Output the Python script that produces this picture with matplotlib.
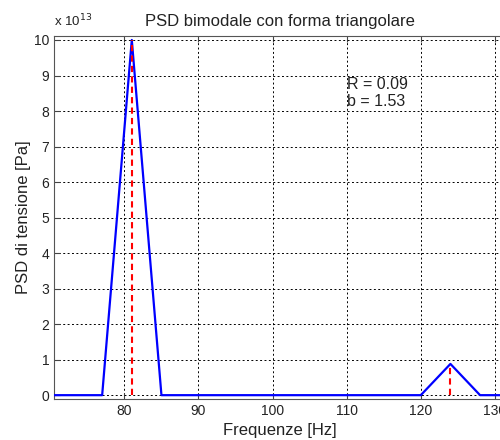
import numpy as np
import matplotlib.pyplot as plt

plt.rcParams['font.family'] = ['Liberation Sans', 'DejaVu Sans']

# dati
freq = [70.5, 77, 81, 85, 120, 124, 128, 132]
psd = [0, 0, 10e13, 0, 0, 0.88e13, 0, 0]
picchi_f = [81, 124]
picchi_psd = [10e13, 0.88e13]
scala = 1e13

fig = plt.figure(figsize=(5, 4.4), dpi=100)
ax = fig.add_axes([0.108, 0.093, 0.904, 0.825])

ax.plot(freq, np.array(psd) / scala, color='#0000ff', lw=1.6, zorder=3)
for f, p in zip(picchi_f, picchi_psd):
    ax.plot([f, f], [0, p / scala], color='#ff0000', lw=1.5, ls=(0, (3, 2)), zorder=4)

ax.set_xlim(70.5, 131.5)
ax.set_ylim(-0.11, 10.11)
ax.set_xticks([80, 90, 100, 110, 120, 130])
ax.set_yticks(range(0, 11))

ax.grid(True, color='black', ls=(0, (2, 2.5)), lw=0.7)
ax.tick_params(direction='in', top=True, right=True, labelsize=10, length=4, colors='#444444',
               labelcolor='#222222')
for s in ax.spines.values():
    s.set_color('#555555')

ax.set_title('PSD bimodale con forma triangolare', fontsize=12, color='#222222', pad=7)
ax.set_xlabel('Frequenze [Hz]', fontsize=12, color='#222222', labelpad=4)
ax.set_ylabel('PSD di tensione [Pa]', fontsize=12, color='#222222', labelpad=2)
ax.text(0.0, 1.02, r'x 10$^{13}$', transform=ax.transAxes, fontsize=9.5, color='#222222',
        va='bottom', ha='left')
ax.text(110.1, 8.5, 'R = 0.09\nb = 1.53', fontsize=11.5, color='#222222', va='center',
        ha='left', linespacing=1.15)

fig.savefig('out.png', dpi=100)
